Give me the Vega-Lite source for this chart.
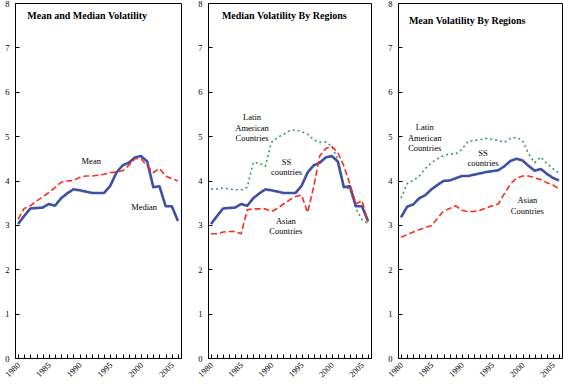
{
  "$schema": "https://vega.github.io/schema/vega-lite/v6.json",
  "background": "white",
  "padding": {"left": 2, "top": -2, "right": 0, "bottom": 0},
  "config": {
    "view": {"stroke": "black", "strokeWidth": 1},
    "concat": {"spacing": 13},
    "axis": {"labelFont": "Liberation Serif", "labelFontSize": 8.5, "labelColor": "black", "domainColor": "black", "tickColor": "black", "grid": false, "title": null},
    "axisY": {"tickSize": -4, "labelPadding": 10, "labelFlush": false, "labelOverlap": false}
  },
  "datasets": {
    "lines": [
      {"panel":1,"series":"Median","year":1980,"value":3.02},{"panel":1,"series":"Median","year":1981,"value":3.2},{"panel":1,"series":"Median","year":1982,"value":3.37},{"panel":1,"series":"Median","year":1983,"value":3.38},{"panel":1,"series":"Median","year":1984,"value":3.39},{"panel":1,"series":"Median","year":1985,"value":3.47},{"panel":1,"series":"Median","year":1986,"value":3.43},{"panel":1,"series":"Median","year":1987,"value":3.6},{"panel":1,"series":"Median","year":1988,"value":3.71},{"panel":1,"series":"Median","year":1989,"value":3.8},{"panel":1,"series":"Median","year":1990,"value":3.78},{"panel":1,"series":"Median","year":1991,"value":3.75},{"panel":1,"series":"Median","year":1992,"value":3.72},{"panel":1,"series":"Median","year":1993,"value":3.72},{"panel":1,"series":"Median","year":1994,"value":3.72},{"panel":1,"series":"Median","year":1995,"value":3.88},{"panel":1,"series":"Median","year":1996,"value":4.18},{"panel":1,"series":"Median","year":1997,"value":4.34},{"panel":1,"series":"Median","year":1998,"value":4.4},{"panel":1,"series":"Median","year":1999,"value":4.52},{"panel":1,"series":"Median","year":2000,"value":4.55},{"panel":1,"series":"Median","year":2001,"value":4.43},{"panel":1,"series":"Median","year":2002,"value":3.85},{"panel":1,"series":"Median","year":2003,"value":3.87},{"panel":1,"series":"Median","year":2004,"value":3.42},{"panel":1,"series":"Median","year":2005,"value":3.42},{"panel":1,"series":"Median","year":2006,"value":3.09},
      {"panel":1,"series":"Mean","year":1980,"value":3.13},{"panel":1,"series":"Mean","year":1981,"value":3.37},{"panel":1,"series":"Mean","year":1982,"value":3.43},{"panel":1,"series":"Mean","year":1983,"value":3.54},{"panel":1,"series":"Mean","year":1984,"value":3.63},{"panel":1,"series":"Mean","year":1985,"value":3.73},{"panel":1,"series":"Mean","year":1986,"value":3.84},{"panel":1,"series":"Mean","year":1987,"value":3.96},{"panel":1,"series":"Mean","year":1988,"value":3.99},{"panel":1,"series":"Mean","year":1989,"value":4.0},{"panel":1,"series":"Mean","year":1990,"value":4.07},{"panel":1,"series":"Mean","year":1991,"value":4.1},{"panel":1,"series":"Mean","year":1992,"value":4.1},{"panel":1,"series":"Mean","year":1993,"value":4.12},{"panel":1,"series":"Mean","year":1994,"value":4.14},{"panel":1,"series":"Mean","year":1995,"value":4.18},{"panel":1,"series":"Mean","year":1996,"value":4.19},{"panel":1,"series":"Mean","year":1997,"value":4.22},{"panel":1,"series":"Mean","year":1998,"value":4.34},{"panel":1,"series":"Mean","year":1999,"value":4.49},{"panel":1,"series":"Mean","year":2000,"value":4.49},{"panel":1,"series":"Mean","year":2001,"value":4.33},{"panel":1,"series":"Mean","year":2002,"value":4.18},{"panel":1,"series":"Mean","year":2003,"value":4.27},{"panel":1,"series":"Mean","year":2004,"value":4.1},{"panel":1,"series":"Mean","year":2005,"value":4.04},{"panel":1,"series":"Mean","year":2006,"value":3.99},
      {"panel":2,"series":"Latin","year":1980,"value":3.81},{"panel":2,"series":"Latin","year":1981,"value":3.81},{"panel":2,"series":"Latin","year":1982,"value":3.83},{"panel":2,"series":"Latin","year":1983,"value":3.81},{"panel":2,"series":"Latin","year":1984,"value":3.79},{"panel":2,"series":"Latin","year":1985,"value":3.79},{"panel":2,"series":"Latin","year":1986,"value":3.85},{"panel":2,"series":"Latin","year":1987,"value":4.41},{"panel":2,"series":"Latin","year":1988,"value":4.39},{"panel":2,"series":"Latin","year":1989,"value":4.32},{"panel":2,"series":"Latin","year":1990,"value":4.86},{"panel":2,"series":"Latin","year":1991,"value":4.97},{"panel":2,"series":"Latin","year":1992,"value":5.04},{"panel":2,"series":"Latin","year":1993,"value":5.12},{"panel":2,"series":"Latin","year":1994,"value":5.14},{"panel":2,"series":"Latin","year":1995,"value":5.1},{"panel":2,"series":"Latin","year":1996,"value":5.04},{"panel":2,"series":"Latin","year":1997,"value":4.92},{"panel":2,"series":"Latin","year":1998,"value":4.86},{"panel":2,"series":"Latin","year":1999,"value":4.87},{"panel":2,"series":"Latin","year":2000,"value":4.77},{"panel":2,"series":"Latin","year":2001,"value":4.48},{"panel":2,"series":"Latin","year":2002,"value":3.85},{"panel":2,"series":"Latin","year":2003,"value":3.81},{"panel":2,"series":"Latin","year":2004,"value":3.36},{"panel":2,"series":"Latin","year":2005,"value":3.12},{"panel":2,"series":"Latin","year":2006,"value":3.02},
      {"panel":2,"series":"SS","year":1980,"value":3.02},{"panel":2,"series":"SS","year":1981,"value":3.2},{"panel":2,"series":"SS","year":1982,"value":3.37},{"panel":2,"series":"SS","year":1983,"value":3.38},{"panel":2,"series":"SS","year":1984,"value":3.39},{"panel":2,"series":"SS","year":1985,"value":3.47},{"panel":2,"series":"SS","year":1986,"value":3.43},{"panel":2,"series":"SS","year":1987,"value":3.6},{"panel":2,"series":"SS","year":1988,"value":3.71},{"panel":2,"series":"SS","year":1989,"value":3.8},{"panel":2,"series":"SS","year":1990,"value":3.78},{"panel":2,"series":"SS","year":1991,"value":3.75},{"panel":2,"series":"SS","year":1992,"value":3.72},{"panel":2,"series":"SS","year":1993,"value":3.72},{"panel":2,"series":"SS","year":1994,"value":3.72},{"panel":2,"series":"SS","year":1995,"value":3.88},{"panel":2,"series":"SS","year":1996,"value":4.18},{"panel":2,"series":"SS","year":1997,"value":4.34},{"panel":2,"series":"SS","year":1998,"value":4.4},{"panel":2,"series":"SS","year":1999,"value":4.52},{"panel":2,"series":"SS","year":2000,"value":4.55},{"panel":2,"series":"SS","year":2001,"value":4.43},{"panel":2,"series":"SS","year":2002,"value":3.85},{"panel":2,"series":"SS","year":2003,"value":3.87},{"panel":2,"series":"SS","year":2004,"value":3.42},{"panel":2,"series":"SS","year":2005,"value":3.42},{"panel":2,"series":"SS","year":2006,"value":3.09},
      {"panel":2,"series":"Asian","year":1980,"value":2.8},{"panel":2,"series":"Asian","year":1981,"value":2.8},{"panel":2,"series":"Asian","year":1982,"value":2.84},{"panel":2,"series":"Asian","year":1983,"value":2.85},{"panel":2,"series":"Asian","year":1984,"value":2.85},{"panel":2,"series":"Asian","year":1985,"value":2.8},{"panel":2,"series":"Asian","year":1986,"value":3.34},{"panel":2,"series":"Asian","year":1987,"value":3.36},{"panel":2,"series":"Asian","year":1988,"value":3.36},{"panel":2,"series":"Asian","year":1989,"value":3.36},{"panel":2,"series":"Asian","year":1990,"value":3.3},{"panel":2,"series":"Asian","year":1991,"value":3.37},{"panel":2,"series":"Asian","year":1992,"value":3.47},{"panel":2,"series":"Asian","year":1993,"value":3.56},{"panel":2,"series":"Asian","year":1994,"value":3.64},{"panel":2,"series":"Asian","year":1995,"value":3.67},{"panel":2,"series":"Asian","year":1996,"value":3.28},{"panel":2,"series":"Asian","year":1997,"value":3.85},{"panel":2,"series":"Asian","year":1998,"value":4.55},{"panel":2,"series":"Asian","year":1999,"value":4.72},{"panel":2,"series":"Asian","year":2000,"value":4.77},{"panel":2,"series":"Asian","year":2001,"value":4.63},{"panel":2,"series":"Asian","year":2002,"value":4.33},{"panel":2,"series":"Asian","year":2003,"value":3.92},{"panel":2,"series":"Asian","year":2004,"value":3.47},{"panel":2,"series":"Asian","year":2005,"value":3.55},{"panel":2,"series":"Asian","year":2006,"value":3.06},
      {"panel":3,"series":"Latin","year":1980,"value":3.6},{"panel":3,"series":"Latin","year":1981,"value":3.93},{"panel":3,"series":"Latin","year":1982,"value":4.0},{"panel":3,"series":"Latin","year":1983,"value":4.1},{"panel":3,"series":"Latin","year":1984,"value":4.27},{"panel":3,"series":"Latin","year":1985,"value":4.4},{"panel":3,"series":"Latin","year":1986,"value":4.49},{"panel":3,"series":"Latin","year":1987,"value":4.56},{"panel":3,"series":"Latin","year":1988,"value":4.6},{"panel":3,"series":"Latin","year":1989,"value":4.6},{"panel":3,"series":"Latin","year":1990,"value":4.7},{"panel":3,"series":"Latin","year":1991,"value":4.88},{"panel":3,"series":"Latin","year":1992,"value":4.9},{"panel":3,"series":"Latin","year":1993,"value":4.92},{"panel":3,"series":"Latin","year":1994,"value":4.95},{"panel":3,"series":"Latin","year":1995,"value":4.93},{"panel":3,"series":"Latin","year":1996,"value":4.9},{"panel":3,"series":"Latin","year":1997,"value":4.86},{"panel":3,"series":"Latin","year":1998,"value":4.95},{"panel":3,"series":"Latin","year":1999,"value":4.97},{"panel":3,"series":"Latin","year":2000,"value":4.9},{"panel":3,"series":"Latin","year":2001,"value":4.6},{"panel":3,"series":"Latin","year":2002,"value":4.4},{"panel":3,"series":"Latin","year":2003,"value":4.53},{"panel":3,"series":"Latin","year":2004,"value":4.38},{"panel":3,"series":"Latin","year":2005,"value":4.27},{"panel":3,"series":"Latin","year":2006,"value":4.16},
      {"panel":3,"series":"SS","year":1980,"value":3.17},{"panel":3,"series":"SS","year":1981,"value":3.41},{"panel":3,"series":"SS","year":1982,"value":3.46},{"panel":3,"series":"SS","year":1983,"value":3.6},{"panel":3,"series":"SS","year":1984,"value":3.67},{"panel":3,"series":"SS","year":1985,"value":3.8},{"panel":3,"series":"SS","year":1986,"value":3.9},{"panel":3,"series":"SS","year":1987,"value":3.99},{"panel":3,"series":"SS","year":1988,"value":4.0},{"panel":3,"series":"SS","year":1989,"value":4.05},{"panel":3,"series":"SS","year":1990,"value":4.1},{"panel":3,"series":"SS","year":1991,"value":4.1},{"panel":3,"series":"SS","year":1992,"value":4.13},{"panel":3,"series":"SS","year":1993,"value":4.16},{"panel":3,"series":"SS","year":1994,"value":4.19},{"panel":3,"series":"SS","year":1995,"value":4.21},{"panel":3,"series":"SS","year":1996,"value":4.23},{"panel":3,"series":"SS","year":1997,"value":4.32},{"panel":3,"series":"SS","year":1998,"value":4.44},{"panel":3,"series":"SS","year":1999,"value":4.49},{"panel":3,"series":"SS","year":2000,"value":4.45},{"panel":3,"series":"SS","year":2001,"value":4.33},{"panel":3,"series":"SS","year":2002,"value":4.22},{"panel":3,"series":"SS","year":2003,"value":4.26},{"panel":3,"series":"SS","year":2004,"value":4.15},{"panel":3,"series":"SS","year":2005,"value":4.06},{"panel":3,"series":"SS","year":2006,"value":4.0},
      {"panel":3,"series":"Asian","year":1980,"value":2.72},{"panel":3,"series":"Asian","year":1981,"value":2.78},{"panel":3,"series":"Asian","year":1982,"value":2.84},{"panel":3,"series":"Asian","year":1983,"value":2.89},{"panel":3,"series":"Asian","year":1984,"value":2.94},{"panel":3,"series":"Asian","year":1985,"value":2.98},{"panel":3,"series":"Asian","year":1986,"value":3.15},{"panel":3,"series":"Asian","year":1987,"value":3.31},{"panel":3,"series":"Asian","year":1988,"value":3.37},{"panel":3,"series":"Asian","year":1989,"value":3.43},{"panel":3,"series":"Asian","year":1990,"value":3.33},{"panel":3,"series":"Asian","year":1991,"value":3.3},{"panel":3,"series":"Asian","year":1992,"value":3.3},{"panel":3,"series":"Asian","year":1993,"value":3.33},{"panel":3,"series":"Asian","year":1994,"value":3.38},{"panel":3,"series":"Asian","year":1995,"value":3.43},{"panel":3,"series":"Asian","year":1996,"value":3.47},{"panel":3,"series":"Asian","year":1997,"value":3.7},{"panel":3,"series":"Asian","year":1998,"value":3.92},{"panel":3,"series":"Asian","year":1999,"value":4.05},{"panel":3,"series":"Asian","year":2000,"value":4.1},{"panel":3,"series":"Asian","year":2001,"value":4.1},{"panel":3,"series":"Asian","year":2002,"value":4.06},{"panel":3,"series":"Asian","year":2003,"value":4.02},{"panel":3,"series":"Asian","year":2004,"value":3.95},{"panel":3,"series":"Asian","year":2005,"value":3.9},{"panel":3,"series":"Asian","year":2006,"value":3.81}
    ],
    "labels": [
      {"panel":1,"kind":"title","year":1981.5,"value":7.71,"text":"Mean and Median Volatility"},
      {"panel":1,"kind":"note","year":1991.9,"value":4.43,"text":"Mean"},
      {"panel":1,"kind":"note","year":2000.5,"value":3.4,"text":"Median"},
      {"panel":2,"kind":"title","year":1981.8,"value":7.71,"text":"Median Volatility By Regions"},
      {"panel":2,"kind":"note","year":1986.8,"value":5.43,"text":"Latin\nAmerican\nCountries"},
      {"panel":2,"kind":"note","year":1992.5,"value":4.42,"text":"SS\ncountries"},
      {"panel":2,"kind":"note","year":1992.4,"value":3.09,"text":"Asian\nCountries"},
      {"panel":3,"kind":"title","year":1981.3,"value":7.6,"text":"Mean Volatility By Regions"},
      {"panel":3,"kind":"note","year":1983.9,"value":5.2,"text":"Latin\nAmerican\nCountries"},
      {"panel":3,"kind":"note","year":1993.5,"value":4.63,"text":"SS\ncountries"},
      {"panel":3,"kind":"note","year":2000.8,"value":3.55,"text":"Asian\nCountries"}
    ]
  },
  "hconcat": [
    {
      "width": 166, "height": 355,
      "encoding": {
        "x": {"field": "year", "type": "quantitative", "scale": {"domain": [1979.5, 2006.5], "nice": false, "zero": false},
              "axis": {"values": [1980,1981,1982,1983,1984,1985,1986,1987,1988,1989,1990,1991,1992,1993,1994,1995,1996,1997,1998,1999,2000,2001,2002,2003,2004,2005,2006], "format": "d", "labelExpr": "datum.value % 5 == 0 ? datum.label : ''", "tickSize": -4, "labelPadding": 9, "labelAngle": -45, "labelAlign": "right", "labelBaseline": "middle", "labelOverlap": false, "labelFlush": false}},
        "y": {"field": "value", "type": "quantitative", "scale": {"domain": [0, 8], "nice": false},
              "axis": {"values": [0,1,2,3,4,5,6,7,8], "format": "d"}}
      },
      "layer": [
        {"data": {"name": "lines"}, "transform": [{"filter": "datum.panel == 1"}],
         "mark": {"type": "line", "strokeCap": "butt", "strokeJoin": "round"},
         "encoding": {
           "color": {"field": "series", "type": "nominal", "scale": {"domain": ["Median","Mean","SS","Latin","Asian"], "range": ["#3d4fa6","#ff2a1f","#3d4fa6","#3a9a5c","#ff2a1f"]}, "legend": null},
           "strokeDash": {"field": "series", "type": "nominal", "scale": {"domain": ["Median","Mean","SS","Latin","Asian"], "range": [[1,0],[6,3],[1,0],[2,3],[6,3]]}, "legend": null},
           "strokeWidth": {"field": "series", "type": "nominal", "scale": {"type": "ordinal", "domain": ["Median","Mean","SS","Latin","Asian"], "range": [2.6,1.6,2.6,1.6,1.6]}, "legend": null}
         }},
        {"data": {"name": "labels"}, "transform": [{"filter": "datum.panel == 1 && datum.kind == 'title'"}],
         "mark": {"type": "text", "font": "Liberation Serif", "fontSize": 10, "fontWeight": "bold", "align": "left", "baseline": "middle", "color": "black"},
         "encoding": {"text": {"field": "text"}}},
        {"data": {"name": "labels"}, "transform": [{"filter": "datum.panel == 1 && datum.kind == 'note'"}],
         "mark": {"type": "text", "font": "Liberation Serif", "fontSize": 8.5, "align": "center", "baseline": "middle", "lineBreak": "\n", "lineHeight": 10.5, "color": "black"},
         "encoding": {"text": {"field": "text"}}}
      ]
    },
    {
      "width": 163, "height": 355,
      "encoding": {
        "x": {"field": "year", "type": "quantitative", "scale": {"domain": [1979.5, 2006.5], "nice": false, "zero": false},
              "axis": {"values": [1980,1981,1982,1983,1984,1985,1986,1987,1988,1989,1990,1991,1992,1993,1994,1995,1996,1997,1998,1999,2000,2001,2002,2003,2004,2005,2006], "format": "d", "labelExpr": "datum.value % 5 == 0 ? datum.label : ''", "tickSize": -4, "labelPadding": 9, "labelAngle": -45, "labelAlign": "right", "labelBaseline": "middle", "labelOverlap": false, "labelFlush": false}},
        "y": {"field": "value", "type": "quantitative", "scale": {"domain": [0, 8], "nice": false},
              "axis": {"values": [0,1,2,3,4,5,6,7,8], "format": "d"}}
      },
      "layer": [
        {"data": {"name": "lines"}, "transform": [{"filter": "datum.panel == 2"}],
         "mark": {"type": "line", "strokeCap": "butt", "strokeJoin": "round"},
         "encoding": {
           "color": {"field": "series", "type": "nominal", "scale": {"domain": ["Median","Mean","SS","Latin","Asian"], "range": ["#3d4fa6","#ff2a1f","#3d4fa6","#3a9a5c","#ff2a1f"]}, "legend": null},
           "strokeDash": {"field": "series", "type": "nominal", "scale": {"domain": ["Median","Mean","SS","Latin","Asian"], "range": [[1,0],[6,3],[1,0],[2,3],[6,3]]}, "legend": null},
           "strokeWidth": {"field": "series", "type": "nominal", "scale": {"type": "ordinal", "domain": ["Median","Mean","SS","Latin","Asian"], "range": [2.6,1.6,2.6,1.6,1.6]}, "legend": null}
         }},
        {"data": {"name": "labels"}, "transform": [{"filter": "datum.panel == 2 && datum.kind == 'title'"}],
         "mark": {"type": "text", "font": "Liberation Serif", "fontSize": 10, "fontWeight": "bold", "align": "left", "baseline": "middle", "color": "black"},
         "encoding": {"text": {"field": "text"}}},
        {"data": {"name": "labels"}, "transform": [{"filter": "datum.panel == 2 && datum.kind == 'note'"}],
         "mark": {"type": "text", "font": "Liberation Serif", "fontSize": 8.5, "align": "center", "baseline": "middle", "lineBreak": "\n", "lineHeight": 10.5, "color": "black"},
         "encoding": {"text": {"field": "text"}}}
      ]
    },
    {
      "width": 164, "height": 355,
      "encoding": {
        "x": {"field": "year", "type": "quantitative", "scale": {"domain": [1979.5, 2006.5], "nice": false, "zero": false},
              "axis": {"values": [1980,1981,1982,1983,1984,1985,1986,1987,1988,1989,1990,1991,1992,1993,1994,1995,1996,1997,1998,1999,2000,2001,2002,2003,2004,2005,2006], "format": "d", "labelExpr": "datum.value % 5 == 0 ? datum.label : ''", "tickSize": -4, "labelPadding": 9, "labelAngle": -45, "labelAlign": "right", "labelBaseline": "middle", "labelOverlap": false, "labelFlush": false}},
        "y": {"field": "value", "type": "quantitative", "scale": {"domain": [0, 8], "nice": false},
              "axis": {"values": [0,1,2,3,4,5,6,7,8], "format": "d"}}
      },
      "layer": [
        {"data": {"name": "lines"}, "transform": [{"filter": "datum.panel == 3"}],
         "mark": {"type": "line", "strokeCap": "butt", "strokeJoin": "round"},
         "encoding": {
           "color": {"field": "series", "type": "nominal", "scale": {"domain": ["Median","Mean","SS","Latin","Asian"], "range": ["#3d4fa6","#ff2a1f","#3d4fa6","#3a9a5c","#ff2a1f"]}, "legend": null},
           "strokeDash": {"field": "series", "type": "nominal", "scale": {"domain": ["Median","Mean","SS","Latin","Asian"], "range": [[1,0],[6,3],[1,0],[2,3],[6,3]]}, "legend": null},
           "strokeWidth": {"field": "series", "type": "nominal", "scale": {"type": "ordinal", "domain": ["Median","Mean","SS","Latin","Asian"], "range": [2.6,1.6,2.6,1.6,1.6]}, "legend": null}
         }},
        {"data": {"name": "labels"}, "transform": [{"filter": "datum.panel == 3 && datum.kind == 'title'"}],
         "mark": {"type": "text", "font": "Liberation Serif", "fontSize": 10, "fontWeight": "bold", "align": "left", "baseline": "middle", "color": "black"},
         "encoding": {"text": {"field": "text"}}},
        {"data": {"name": "labels"}, "transform": [{"filter": "datum.panel == 3 && datum.kind == 'note'"}],
         "mark": {"type": "text", "font": "Liberation Serif", "fontSize": 8.5, "align": "center", "baseline": "middle", "lineBreak": "\n", "lineHeight": 10.5, "color": "black"},
         "encoding": {"text": {"field": "text"}}}
      ]
    }
  ]
}
